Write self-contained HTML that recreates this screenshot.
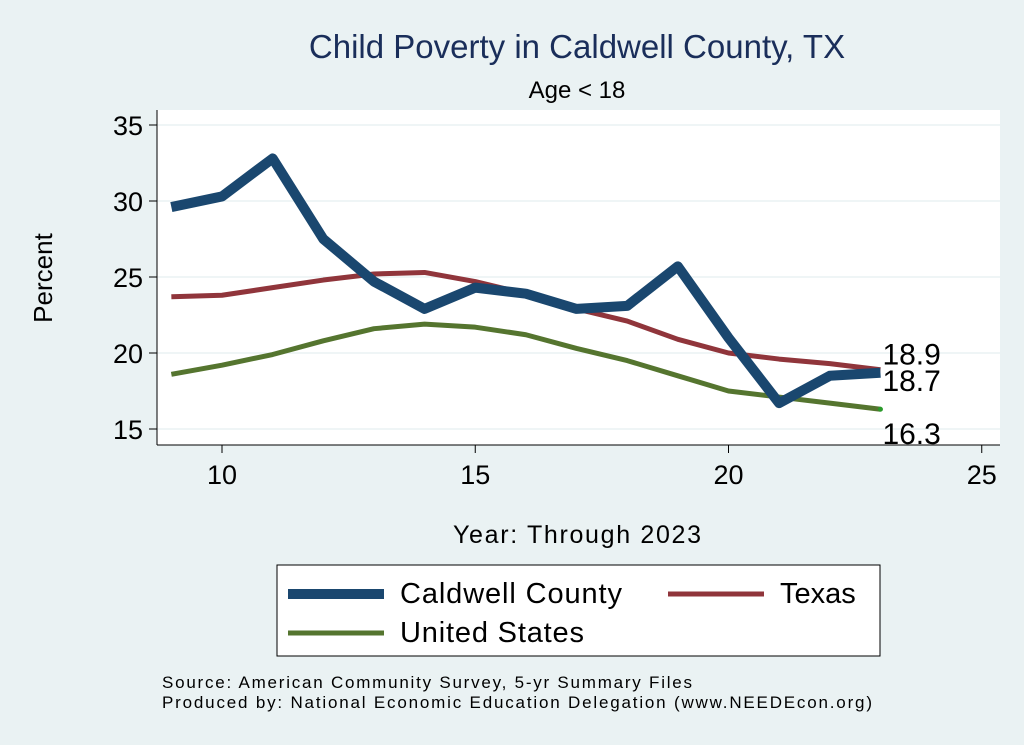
<!DOCTYPE html>
<html><head><meta charset="utf-8"><style>
body{margin:0;background:#eaf2f3;}
svg{display:block;font-family:"Liberation Sans",sans-serif;}
</style></head><body>
<svg width="1024" height="745" viewBox="0 0 1024 745">
<rect x="0" y="0" width="1024" height="745" fill="#eaf2f3"/>
<rect x="157" y="110" width="843" height="335" fill="#ffffff"/>
<text x="577" y="58" font-size="33" fill="#1a2e5a" text-anchor="middle">Child Poverty in Caldwell County, TX</text>
<text x="577" y="98" font-size="24" fill="#000" text-anchor="middle">Age &lt; 18</text>
<g id="grid"></g>
<g id="axes"></g>
<g id="series"></g>
<g id="labels"></g>
<text x="52" y="278" font-size="26" text-anchor="middle" transform="rotate(-90 52 278)">Percent</text>
<text x="577" y="543" font-size="25" text-anchor="middle" textLength="248">Year: Through 2023</text>
<g>
<rect x="277" y="565" width="603" height="91" fill="#fff" stroke="#000" stroke-width="1"/>
<g><line x1="288" y1="594" x2="384" y2="594" stroke="#1a476f" stroke-width="10"/><text x="400" y="603" font-size="29" textLength="222">Caldwell County</text></g>
<g><line x1="668" y1="594" x2="764" y2="594" stroke="#90353b" stroke-width="5"/><text x="780" y="603" font-size="29">Texas</text></g>
<g><line x1="288" y1="633" x2="384" y2="633" stroke="#55752f" stroke-width="5"/><text x="400" y="642" font-size="29" textLength="184">United States</text></g>
</g>
<text x="162" y="688" font-size="17" textLength="530">Source: American Community Survey, 5-yr Summary Files</text>
<text x="162" y="708" font-size="17" textLength="710">Produced by: National Economic Education Delegation (www.NEEDEcon.org)</text>
</svg>
<script>
const years=[9,10,11,12,13,14,15,16,17,18,19,20,21,22,23];
const caldwell=[29.6,30.3,32.8,27.5,24.7,22.9,24.3,23.9,22.9,23.1,25.7,21.0,16.7,18.5,18.7];
const texas=[23.7,23.8,24.3,24.8,25.2,25.3,24.7,23.9,22.9,22.1,20.9,20.0,19.6,19.3,18.9];
const us=[18.6,19.2,19.9,20.8,21.6,21.9,21.7,21.2,20.3,19.5,18.5,17.5,17.1,16.7,16.3];
const yTicks=[15,20,25,30,35];
const xTicks=[10,15,20,25];
const NS='http://www.w3.org/2000/svg';
function X(v){return 222+(v-10)*50.65;}
function Y(v){return 429-(v-15)*15.2;}
function mk(t,a,p){const e=document.createElementNS(NS,t);for(const k in a)e.setAttribute(k,a[k]);p.appendChild(e);return e;}
const grid=document.getElementById('grid'),axes=document.getElementById('axes'),ser=document.getElementById('series'),lab=document.getElementById('labels');
yTicks.forEach(v=>{
 const g=mk('line',{x1:157,x2:1000,y1:Y(v),y2:Y(v),stroke:'#eaf2f3','stroke-width':1.5},grid);
 
 
 const t=mk('line',{x1:149,x2:157,y1:Y(v),y2:Y(v),stroke:'#000','stroke-width':1},axes);
 
 
 const l=mk('text',{x:143,y:Y(v)+10,'font-size':27,'text-anchor':'end'},axes);l.textContent=v;
 
 
});
xTicks.forEach(v=>{
 const t=mk('line',{x1:X(v),x2:X(v),y1:445,y2:453,stroke:'#000','stroke-width':1},axes);
 
 
 const l=mk('text',{x:X(v),y:484,'font-size':27,'text-anchor':'middle'},axes);l.textContent=v;
 
 
});
const ya=mk('line',{x1:157,x2:157,y1:110,y2:445,stroke:'#000','stroke-width':1},axes);


const xa=mk('line',{x1:157,x2:1000,y1:445,y2:445,stroke:'#000','stroke-width':1},axes);


function line(vals,color,w,name){
 const p=mk('polyline',{points:vals.map((v,i)=>X(years[i])+','+Y(v)).join(' '),fill:'none',stroke:color,'stroke-width':w,'stroke-linejoin':'round'},ser);
 
 
}
line(us,'#55752f',5,'us-line');
line(texas,'#90353b',5,'texas-line');
line(caldwell,'#1a476f',10,'caldwell-line');
const n=years.length-1;
const dot=mk('circle',{cx:X(years[n]),cy:Y(us[n]),r:2.5,fill:'#2a9a2a'},ser);


[[texas[n],-5,'texas-end-label'],[caldwell[n],18,'caldwell-end-label'],[us[n],35,'us-end-label']].forEach(([v,dy,nm])=>{
 const t=mk('text',{x:X(years[n])+2,y:Y(v)+dy,'font-size':30},lab);t.textContent=v.toFixed(1);
 
 
});
</script>
</body></html>
